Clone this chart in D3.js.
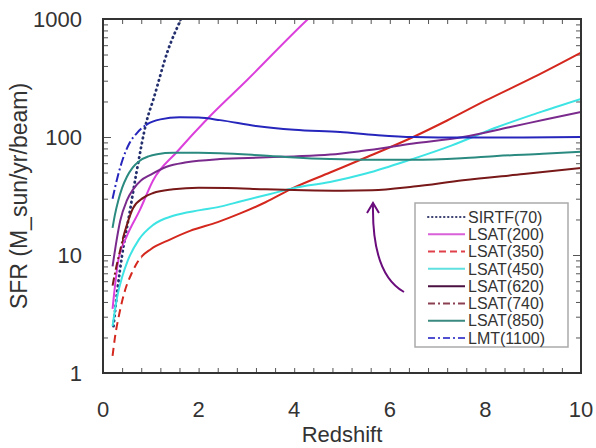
<!DOCTYPE html>
<html>
<head>
<meta charset="utf-8">
<script src="https://cdn.jsdelivr.net/npm/d3@7"></script>
<style>
  body { margin: 0; background: #fff; }
  text { font-family: "Liberation Sans", Arial, sans-serif; fill: #333; }
</style>
</head>
<body>
<script>
// data: [redshift, SFR]
var sirtf70  = [[0.22,2.5],[0.3,5],[0.4,10],[0.55,22],[0.7,50],[0.92,140],[1.05,206],[1.36,545],[1.63,1000],[1.75,1300]];
var lsat200  = [[0.2,3.5],[0.32,9],[0.5,14.5],[0.77,24],[1.05,43],[1.55,75],[2.2,145],[3,300],[4.29,1000],[4.5,1200]];
var lsat350  = [[0.2,1.4],[0.25,2],[0.35,3.3],[0.46,5],[0.6,7],[0.77,9.3],[1,11.2],[1.4,13.5],[1.82,16],[2.4,19],[2.87,22.5],[3.4,28],[3.98,37],[4.75,50],[5.5,67],[6.49,100],[7.2,138],[8,203],[9,320],[10,520]];
var lsat450  = [[0.2,2.5],[0.3,4.5],[0.4,6.5],[0.52,9],[0.75,13.5],[1.05,18],[1.47,21.5],[2.03,24],[2.45,25.7],[2.87,28.4],[3.5,32.9],[4,37],[4.75,41.5],[5.5,49],[6.42,64],[7.3,85],[8.24,121],[9.1,160],[10,210]];
var lsat620  = [[0.2,8],[0.28,13],[0.36,19.5],[0.5,29],[0.63,36],[0.8,43],[0.98,47.5],[1.33,56],[1.75,61],[2.45,65],[3.3,67],[4,68.5],[4.75,71],[5.4,76],[6.49,88],[7.53,100],[8.5,121],[9.3,142],[10,163]];
var lsat740  = [[0.2,5.5],[0.28,8],[0.36,11],[0.42,14],[0.5,18],[0.63,25],[0.84,30.5],[1.05,33.5],[1.47,36],[2,37.2],[2.6,37],[3.4,36],[4.2,35.3],[5,35],[5.63,35.3],[6.5,38],[7.53,43],[8.8,48.5],[10,54.5]];
var lsat850  = [[0.2,17],[0.25,22],[0.32,29],[0.4,37],[0.5,46],[0.62,55],[0.77,63],[0.95,68.5],[1.13,71.5],[1.47,73.5],[2,73.5],[2.45,73],[3.5,69],[4.75,65],[5.5,64],[6.49,64],[7.5,66],[8.24,69],[9.2,72],[10,75]];
var lmt1100  = [[0.2,30],[0.3,45],[0.42,66],[0.55,88],[0.71,108],[0.92,128],[1.2,141],[1.6,147],[2,146],[2.45,139],[3.2,124],[4,115],[4.96,110],[5.7,104],[6.49,100],[7.53,99],[8.8,99],[10,100]];

var seriesNames = ["SIRTF(70)","LSAT(200)","LSAT(350)","LSAT(450)","LSAT(620)","LSAT(740)","LSAT(850)","LMT(1100)"];
var xTickLabels = [0,2,4,6,8,10];
var yTickLabels = [1,10,100,1000];

// styles (line colour, dash pattern, dashed only below this z, legend colour)
var styles = [
    {data: sirtf70, color:"#24306e", dash:"0.5,4.5", dashUntil:10, legend:"#3a3f6e", legendDash:"0.5,3.5"},
    {data: lsat200, color:"#dc40dc", dash:null, dashUntil:0, legend:"#d860d8"},
    {data: lsat350, color:"#d4281e", dash:"8,5", dashUntil:0.8, legend:"#e0404a", legendDash:"7,4"},
    {data: lsat450, color:"#3ee4e4", dash:null, dashUntil:0, legend:"#60e0e0"},
    {data: lsat620, color:"#7a2a8c", dash:null, dashUntil:0, legend:"#4a1040"},
    {data: lsat740, color:"#781818", dash:"8,3,2,3", dashUntil:0.4, legend:"#8a4050", legendDash:"7,3,2,3"},
    {data: lsat850, color:"#2a8a80", dash:null, dashUntil:0, legend:"#3a8a80"},
    {data: lmt1100, color:"#2626bc", dash:"9,3,2,3", dashUntil:0.9, legend:"#5050d0", legendDash:"7,3,2,3"}
];

var W = 596, H = 448;
var MARGINS = {top: 19, bottom: 75, left: 103, right: 15};

var svg = d3.select("body").append("svg").attr("width", W).attr("height", H);

var xScale = d3.scaleLinear().domain([0,10]).range([MARGINS.left, W - MARGINS.right]);
var yScale = d3.scaleLog().domain([1,1000]).range([H - MARGINS.bottom, MARGINS.top]);

var x0 = xScale(0), x1 = xScale(10), y0 = yScale(1), y1 = yScale(1000);

// clip paths
var defs = svg.append("defs");
defs.append("clipPath").attr("id","plot").append("rect")
    .attr("x",x0).attr("y",y1).attr("width",x1-x0).attr("height",y0-y1);

// minor ticks
var xMinor = d3.range(0, 10.001, 0.4);
var yMinor = [];
[1,10,100].forEach(function(d){ for (var k=2;k<=9;k++) yMinor.push(d*k); });

var tickStyle = function(g){ g.select(".domain").remove(); g.selectAll("line").attr("stroke","#555").attr("stroke-width",1); };

svg.append("g").attr("transform","translate(0,"+y0+")")
    .call(d3.axisBottom(xScale).tickValues(xMinor).tickSize(-5).tickFormat("")).call(tickStyle);
svg.append("g").attr("transform","translate(0,"+y1+")")
    .call(d3.axisTop(xScale).tickValues(xMinor).tickSize(-5).tickFormat("")).call(tickStyle);
svg.append("g").attr("transform","translate("+x0+",0)")
    .call(d3.axisLeft(yScale).tickValues(yMinor).tickSize(-5).tickFormat("")).call(tickStyle);
svg.append("g").attr("transform","translate("+x1+",0)")
    .call(d3.axisRight(yScale).tickValues(yMinor).tickSize(-5).tickFormat("")).call(tickStyle);
svg.append("g").attr("transform","translate("+x0+",0)")
    .call(d3.axisLeft(yScale).tickValues(yTickLabels).tickSize(-8).tickFormat("")).call(tickStyle);
svg.append("g").attr("transform","translate("+x1+",0)")
    .call(d3.axisRight(yScale).tickValues(yTickLabels).tickSize(-8).tickFormat("")).call(tickStyle);

// tick labels
svg.append("g").selectAll("text").data(xTickLabels).enter().append("text")
    .attr("x", function(d){ return xScale(d); })
    .attr("y", 417)
    .attr("text-anchor","middle")
    .style("font-size","22px")
    .text(function(d){ return d; });

svg.append("g").selectAll("text").data(yTickLabels).enter().append("text")
    .attr("x", 82)
    .attr("y", function(d){ return yScale(d); })
    .attr("dy","0.36em")
    .attr("text-anchor","end")
    .style("font-size","22px")
    .text(function(d){ return d; });

svg.append("text").attr("x",(x0+x1)/2).attr("y",442).attr("text-anchor","middle")
    .style("font-size","22px").text("Redshift");
svg.append("text").attr("transform","translate(27,"+((y0+y1)/2)+") rotate(-90)")
    .attr("text-anchor","middle").style("font-size","23px").text("SFR (M_sun/yr/beam)");

// curves
var line = d3.line()
    .x(function(d){ return xScale(d[0]); })
    .y(function(d){ return yScale(d[1]); })
    .curve(d3.curveMonotoneX);

var plot = svg.append("g").attr("clip-path","url(#plot)");
styles.forEach(function(s, i){
    if (s.dash) {
        defs.append("clipPath").attr("id","dash"+i).append("rect")
            .attr("x",x0).attr("y",y1).attr("width",xScale(s.dashUntil)-x0).attr("height",y0-y1);
        plot.append("path").datum(s.data).attr("d",line).attr("fill","none")
            .attr("stroke",s.color).attr("stroke-width", i==0 ? 2.8 : 2)
            .attr("stroke-linecap", i==0 ? "round" : "butt")
            .attr("stroke-dasharray",s.dash)
            .attr("clip-path","url(#dash"+i+")");
        if (s.dashUntil < 10) {
            defs.append("clipPath").attr("id","solid"+i).append("rect")
                .attr("x",xScale(s.dashUntil)).attr("y",y1).attr("width",x1-xScale(s.dashUntil)).attr("height",y0-y1);
            plot.append("path").datum(s.data).attr("d",line).attr("fill","none")
                .attr("stroke",s.color).attr("stroke-width",2)
                .attr("clip-path","url(#solid"+i+")");
        }
    } else {
        plot.append("path").datum(s.data).attr("d",line).attr("fill","none")
            .attr("stroke",s.color).attr("stroke-width",2);
    }
});

// frame
svg.append("rect").attr("x",x0).attr("y",y1).attr("width",x1-x0).attr("height",y0-y1)
    .attr("fill","none").attr("stroke","#333").attr("stroke-width",2);

// arrow
svg.append("path").attr("d","M404,292 C386,282 372,258 373,204")
    .attr("fill","none").attr("stroke","#6a0c7c").attr("stroke-width",2);
svg.append("path").attr("d","M367,213 L373,203 L379,213")
    .attr("fill","none").attr("stroke","#6a0c7c").attr("stroke-width",2);

// legend
var lg = svg.append("g");
lg.append("rect").attr("x",415).attr("y",203).attr("width",153).attr("height",144)
    .attr("fill","#fff").attr("stroke","#aaa").attr("stroke-width",1.5);
var rowY = d3.scaleLinear().domain([0,7]).range([217,338]);
styles.forEach(function(s, i){
    lg.append("line").attr("x1",428).attr("x2",465).attr("y1",rowY(i)).attr("y2",rowY(i))
        .attr("stroke",s.legend).attr("stroke-width",2)
        .attr("stroke-linecap", i==0 ? "round" : "butt")
        .attr("stroke-dasharray", s.legendDash || null);
    lg.append("text").attr("x",468).attr("y",rowY(i)).attr("dy","0.36em")
        .style("font-size","16px").text(seriesNames[i]);
});
</script>
</body>
</html>
